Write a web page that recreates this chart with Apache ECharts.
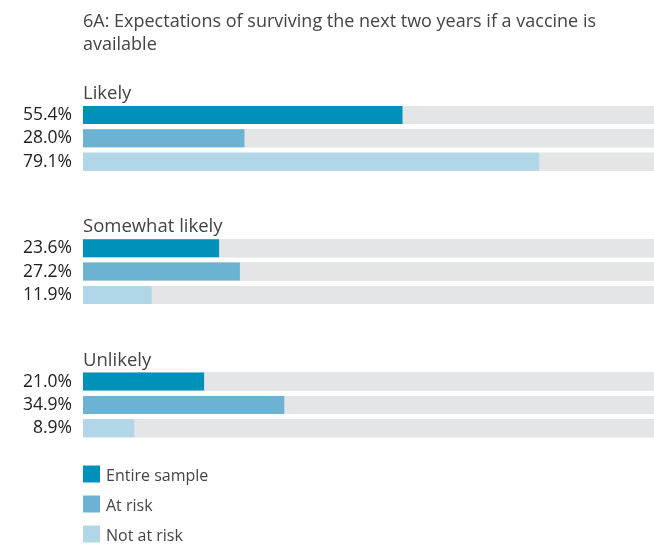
<!DOCTYPE html>
<html>
<head>
<meta charset="utf-8">
<script src="https://cdn.jsdelivr.net/npm/echarts@6/dist/echarts.min.js"></script>
<style>
  html, body { margin: 0; padding: 0; background: #fff; }
  #chart { width: 654px; height: 545px; }
</style>
</head>
<body>
<div id="chart"></div>
<script>
// Response groups and the three samples compared inside each group
const groups = ['Likely', 'Somewhat likely', 'Unlikely'];
const sampleNames = ['Entire sample', 'At risk', 'Not at risk'];

// Percentages per sample, in group order
const entireSample = [55.4, 23.6, 21.0];
const atRisk = [28.0, 27.2, 34.9];
const notAtRisk = [79.1, 11.9, 8.9];

const sampleValues = [entireSample, atRisk, notAtRisk];
const sampleColors = ['#0091bb', '#6cb3d3', '#b0d6e7'];

const FONT = '"Open Sans", sans-serif';
const groupTop = [103.3, 236.6, 369.9];
const rowBand = 70;
// The track runs off the right edge of the page; the visible part ends just short of 100%
const visibleMax = 99;

const grids = [], xAxes = [], yAxes = [], series = [], titles = [];

titles.push({
  text: '6A: Expectations of surviving the next two years if a vaccine is\navailable',
  left: 83, top: 10,
  padding: 0,
  textStyle: { fontFamily: FONT, fontSize: 18, fontWeight: 'normal', color: '#444', lineHeight: 23 }
});

groups.forEach((g, gi) => {
  grids.push({ left: 83, right: 0, top: groupTop[gi], height: rowBand, containLabel: false });
  xAxes.push({ gridIndex: gi, type: 'value', min: 0, max: visibleMax, show: false });
  yAxes.push({ gridIndex: gi, type: 'category', inverse: true, data: sampleNames, show: false });
  titles.push({
    text: g, left: 83, top: groupTop[gi] - 19, padding: 0,
    textStyle: { fontFamily: FONT, fontSize: 18.5, fontWeight: 'normal', color: '#444' }
  });
  sampleNames.forEach((name, si) => {
    const data = sampleNames.map((_, k) => (k === si ? sampleValues[si][gi] : '-'));
    series.push({
      name: name,
      type: 'bar',
      xAxisIndex: gi,
      yAxisIndex: gi,
      stack: 'group' + gi,
      barWidth: 18,
      data: data,
      itemStyle: { color: sampleColors[si] },
      showBackground: true,
      backgroundStyle: { color: '#e4e5e7' },
      label: {
        show: true,
        position: 'left',
        distance: 11,
        fontFamily: FONT,
        fontSize: 17.5,
        color: '#222',
        formatter: p => p.value.toFixed(1) + '%'
      },
      emphasis: { disabled: true },
      animation: false
    });
  });
});

const chart = echarts.init(document.getElementById('chart'), null, { renderer: 'canvas' });
chart.setOption({
  animation: false,
  title: titles,
  grid: grids,
  xAxis: xAxes,
  yAxis: yAxes,
  series: series,
  legend: {
    data: sampleNames,
    orient: 'vertical',
    left: 83, top: 463.5, height: 100,
    padding: 0,
    icon: 'rect',
    itemWidth: 17, itemHeight: 17, itemGap: 9,
    selectedMode: false,
    formatter: '{t|{name}}',
    textStyle: {
      fontFamily: FONT, fontSize: 16, color: '#444',
      rich: { t: { fontFamily: FONT, fontSize: 16, lineHeight: 17, color: '#444', padding: [5, 0, 0, 1] } }
    }
  }
});
</script>
</body>
</html>
